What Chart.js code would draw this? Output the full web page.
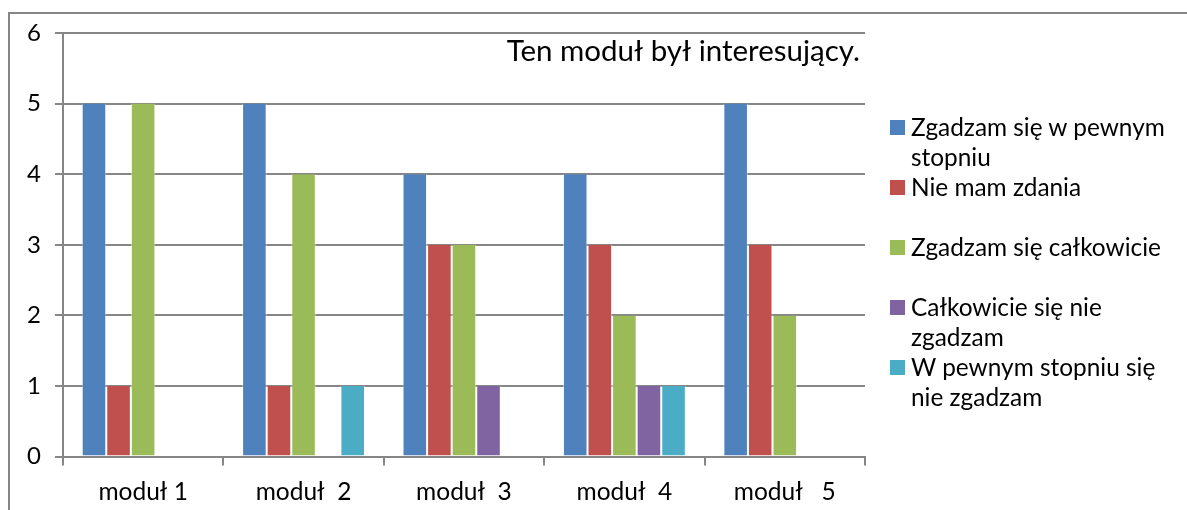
<!DOCTYPE html>
<html>
<head>
<meta charset="utf-8">
<script src="https://cdn.jsdelivr.net/npm/chart.js@4/dist/chart.umd.min.js"></script>
<style>
	html, body { margin: 0; padding: 0; background: #fff; }
	#wrap { position: relative; width: 1187px; height: 510px; }
	#legend { position: absolute; left: 890px; top: 112px; font-family: Lato, sans-serif; font-size: 24.4px; color: #000; }
	#legend .item { position: relative; height: 60px; padding-left: 21px; line-height: 30px; width: 290px; white-space: nowrap; }
	#legend .box { position: absolute; left: 0; top: 8px; width: 15px; height: 15px; }
</style>
</head>
<body>
<div id="wrap">
	<canvas id="chart" width="1187" height="510"></canvas>
	<div id="legend"></div>
</div>
<script>
const categories = ["moduł 1", "moduł  2", "moduł  3", "moduł  4", "moduł   5"]
const seriesNames = [
	"Zgadzam się w pewnym stopniu",
	"Nie mam zdania",
	"Zgadzam się całkowicie",
	"Całkowicie się nie zgadzam",
	"W pewnym stopniu się nie zgadzam"
]
const legendLines = [
	["Zgadzam się w pewnym", "stopniu"],
	["Nie mam zdania"],
	["Zgadzam się całkowicie"],
	["Całkowicie się nie", "zgadzam"],
	["W pewnym stopniu się", "nie zgadzam"]
]
const agreeSome = [5, 5, 4, 4, 5]
const noOpinion = [1, 1, 3, 3, 3]
const agreeFull = [5, 4, 3, 2, 2]
const disagreeFull = [null, null, 1, 1, null]
const disagreeSome = [null, 1, null, 1, null]
const yTicks = [0, 1, 2, 3, 4, 5, 6]
const chartTitle = "Ten moduł był interesujący."

const colors = ["#4F81BD", "#C0504D", "#9BBB59", "#8064A2", "#4BACC6"]
const values = [agreeSome, noOpinion, agreeFull, disagreeFull, disagreeSome]

const frame = {
	id: "frame",
	beforeDraw: (chart) => {
		const ctx = chart.ctx
		ctx.save()
		ctx.strokeStyle = "#868686"
		ctx.lineWidth = 2
		ctx.strokeRect(9, 13, 1300, 600)
		ctx.restore()
	},
	afterDraw: (chart) => {
		const ctx = chart.ctx
		const a = chart.chartArea
		ctx.save()
		ctx.fillStyle = "#000"
		ctx.font = "29.5px Lato, sans-serif"
		ctx.textAlign = "right"
		ctx.textBaseline = "middle"
		ctx.fillText(chartTitle, a.right - 5, a.top + 18)
		ctx.restore()
	}
}

new Chart(document.getElementById("chart"), {
	type: "bar",
	data: {
		labels: categories,
		datasets: values.map((v, i) => ({
			label: seriesNames[i],
			data: v,
			backgroundColor: colors[i],
			borderColor: "rgba(255,255,255,0.5)",
			borderWidth: {left: 1, right: 1, top: 0, bottom: 0},
			categoryPercentage: 0.766,
			barPercentage: 1
		}))
	},
	options: {
		responsive: false,
		animation: false,
		layout: {padding: {left: 13, top: 33, right: 322, bottom: -9}},
		plugins: {legend: {display: false}, tooltip: {enabled: false}},
		scales: {
			x: {
				grid: {display: true, drawOnChartArea: false, color: "#868686", lineWidth: 2, tickLength: 9},
				border: {color: "#868686", width: 2},
				ticks: {color: "#000", font: {family: "Lato, sans-serif", size: 24.5}, padding: 12}
			},
			y: {
				min: 0,
				max: 6,
				afterBuildTicks: (axis) => { axis.ticks = yTicks.map(v => ({value: v})) },
				grid: {color: "#868686", lineWidth: 2, tickLength: 8},
				border: {color: "#868686", width: 2},
				ticks: {color: "#000", font: {family: "Lato, sans-serif", size: 24}, padding: 14}
			}
		}
	},
	plugins: [frame]
})

const legend = document.getElementById("legend")
legendLines.forEach((lines, i) => {
	const item = document.createElement("div")
	item.className = "item"
	const box = document.createElement("span")
	box.className = "box"
	box.style.background = colors[i]
	item.appendChild(box)
	lines.forEach(t => {
		const line = document.createElement("div")
		line.textContent = t
		item.appendChild(line)
	})
	legend.appendChild(item)
})
</script>
</body>
</html>
